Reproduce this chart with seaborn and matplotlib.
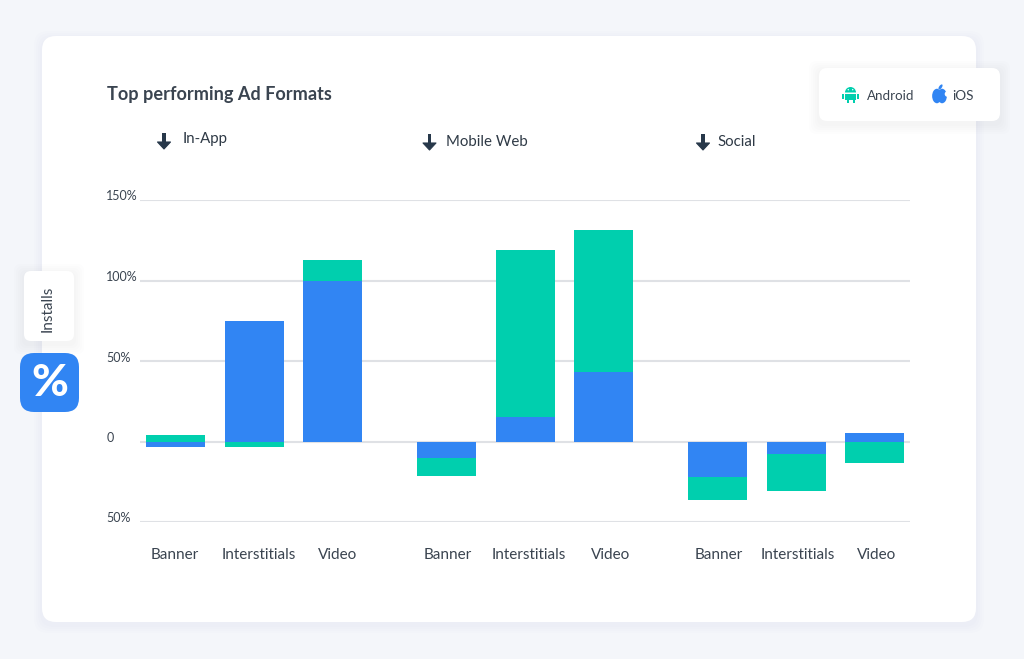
import numpy as np
import pandas as pd
import matplotlib
matplotlib.use("Agg")
import matplotlib.pyplot as plt
from matplotlib.patches import FancyBboxPatch, Polygon, Ellipse, Wedge, Rectangle, Circle
from matplotlib.transforms import ScaledTranslation
import seaborn as sns

groups = ["In-App", "Mobile Web", "Social"]
formats = ["Banner", "Interstitials", "Video"]
ios = [-3.5, 75, 100, -10.5, 15, 43, -22, -7.5, 5.5]
android = [4, -3.5, 12.5, -11, 104, 88.5, -14.5, -23, -13.5]
y_ticks = [150, 100, 50, 0, -50]
y_labels = ["150%", "100%", "50%", "0", "50%"]
title = "Top performing Ad Formats"

BLUE = "#3185f3"
TEAL = "#00cfae"
TEXT = "#3a4450"
DARK = "#27384a"
FONT = "Lato"

sns.set_theme(style="white")
plt.rcParams["font.family"] = [FONT, "DejaVu Sans"]

W, H = 1024, 659
fig = plt.figure(figsize=(W / 100, H / 100), dpi=100, facecolor="#f4f6fa")

# pixel-space overlay for the decorations
bg = fig.add_axes([0, 0, 1, 1], zorder=0)
bg.set_xlim(0, W)
bg.set_ylim(H, 0)
bg.axis("off")


def card(x0, y0, x1, y1, r, color="white", shadow=True, spread=10, z=1, alpha=0.012):
    if shadow:
        for i in range(spread, 0, -2):
            bg.add_patch(FancyBboxPatch((x0 - i + r, y0 - i + 3 + r), x1 - x0 + 2 * i - 2 * r, y1 - y0 + 2 * i - 2 * r,
                                        boxstyle=f"round,pad={r},rounding_size={r}", fc="#5a6a85", ec="none",
                                        alpha=alpha, zorder=z))
    bg.add_patch(FancyBboxPatch((x0 + r, y0 + r), x1 - x0 - 2 * r, y1 - y0 - 2 * r,
                                boxstyle=f"round,pad={r},rounding_size={r}", fc=color, ec="none", zorder=z + 0.1))


card(42, 36, 976, 622, 14, spread=8, alpha=0.006)
card(819, 68, 1000, 121, 8, z=2)
card(24, 271, 74, 341, 7, z=2)
card(20, 353, 79, 412, 14, color=BLUE, shadow=False, z=2)

bg.text(49.5, 383, "%", color="white", fontsize=32, fontweight="black", ha="center", va="center", zorder=4)
bg.text(47.5, 308.5, "Installs", color=TEXT, fontsize=11, rotation=90, ha="center", va="center", zorder=4)
bg.text(107, 94.5, title, color=TEXT, fontsize=13.1, fontweight="bold", ha="left", va="center", zorder=4)

for label, ax_txt, ay_txt, ax_arrow in zip(groups, [183, 445.5, 717.5], [139.5, 142.5, 142.5], [164, 429.5, 703]):
    bg.text(ax_txt, ay_txt, label, color="#2f3a46", fontsize=10.8, ha="left", va="center", zorder=4)
    cy = ay_txt + 1.5 if label == "In-App" else ay_txt - 0.5
    bg.add_patch(Rectangle((ax_arrow - 1.7, cy - 8), 3.4, 11, fc=DARK, ec="none", zorder=4))
    bg.add_patch(Polygon([(ax_arrow - 6.5, cy + 1), (ax_arrow + 6.5, cy + 1), (ax_arrow, cy + 8)], fc=DARK, ec=DARK,
                         lw=0.8, joinstyle="round", zorder=4))

# legend: android glyph
cx = 850.5
bg.add_patch(Wedge((cx, 92.5), 5.5, 180, 360, fc=TEAL, ec="none", zorder=4))
bg.add_patch(Rectangle((cx - 5.5, 93.5), 11, 6.5, fc=TEAL, ec="none", zorder=4))
for dx in (-3, 3):
    bg.add_patch(Rectangle((cx + dx - 1, 99), 2, 4, fc=TEAL, ec="none", zorder=4))
for dx in (-7.2, 7.2):
    bg.add_patch(Rectangle((cx + dx - 1, 93.5), 2, 5.5, fc=TEAL, ec="none", zorder=4))
for dx in (-2.2, 2.2):
    bg.add_patch(Circle((cx + dx, 89.7), 0.7, fc="white", ec="none", zorder=5))
bg.text(867, 95.5, "Android", color=TEXT, fontsize=9.6, ha="left", va="center", zorder=4)

# legend: apple glyph
ax0 = 939.5
bg.add_patch(Ellipse((ax0 - 2.6, 96), 9.5, 14.5, fc=BLUE, ec="none", zorder=4))
bg.add_patch(Ellipse((ax0 + 2.6, 96), 9.5, 14.5, fc=BLUE, ec="none", zorder=4))
bg.add_patch(Circle((ax0 + 8, 94), 2.8, fc="white", ec="none", zorder=4.5))
bg.add_patch(Ellipse((ax0 + 1, 87), 2.8, 6, angle=35, fc=BLUE, ec="none", zorder=4))
bg.text(952, 95.5, "iOS", color=TEXT, fontsize=9.8, ha="left", va="center", zorder=4)

# chart
ax = fig.add_axes([140 / W, 1 - 522 / H, (910 - 140) / W, (522 - 200) / H], zorder=5)
ax.patch.set_alpha(0)

n_fmt = len(formats)
pos = [i + g * 0.448 + g * n_fmt for g in range(len(groups)) for i in range(n_fmt)]
df = pd.DataFrame({"pos": pos, "ios": ios, "android": android})
same = np.sign(df["ios"]) == np.sign(df["android"])
df["stack"] = np.where(same, df["ios"] + df["android"], df["android"])

bar_kw = dict(native_scale=True, saturation=1, width=0.75, ax=ax, zorder=3, linewidth=0)
sns.barplot(data=df, x="pos", y="stack", color=TEAL, **bar_kw)
sns.barplot(data=df, x="pos", y="ios", color=BLUE, **bar_kw)

ax.set_xlim(-0.4517, 9.345)
ax.set_ylim(-50, 150)
ax.set_xlabel("")
ax.set_ylabel("")
ax.set_yticks(y_ticks)
ax.set_yticklabels(y_labels, color=TEXT, fontsize=9, ha="left", va="baseline")
ax.tick_params(axis="y", length=0, pad=24.3)
for lab in ax.get_yticklabels():
    lab.set_transform(lab.get_transform() + ScaledTranslation(0, -0.5 / 100, fig.dpi_scale_trans))

# labels sit slightly off the bar centres in the original
nudge_px = [-0.5, 5, 5, 1.5, 4, 7, 1, 2, 2]
ax.set_xticks(np.array(pos) + np.array(nudge_px) / 78.6)
ax.set_xticklabels(formats * len(groups), color=TEXT, fontsize=11)
ax.tick_params(axis="x", length=0, pad=18.5)
ax.yaxis.grid(True, color="#dfe1e5", linewidth=1.5, zorder=0)
ax.set_axisbelow(True)
sns.despine(ax=ax, left=True, bottom=True, top=True, right=True)

fig.savefig("out.png", dpi=100, facecolor=fig.get_facecolor())
